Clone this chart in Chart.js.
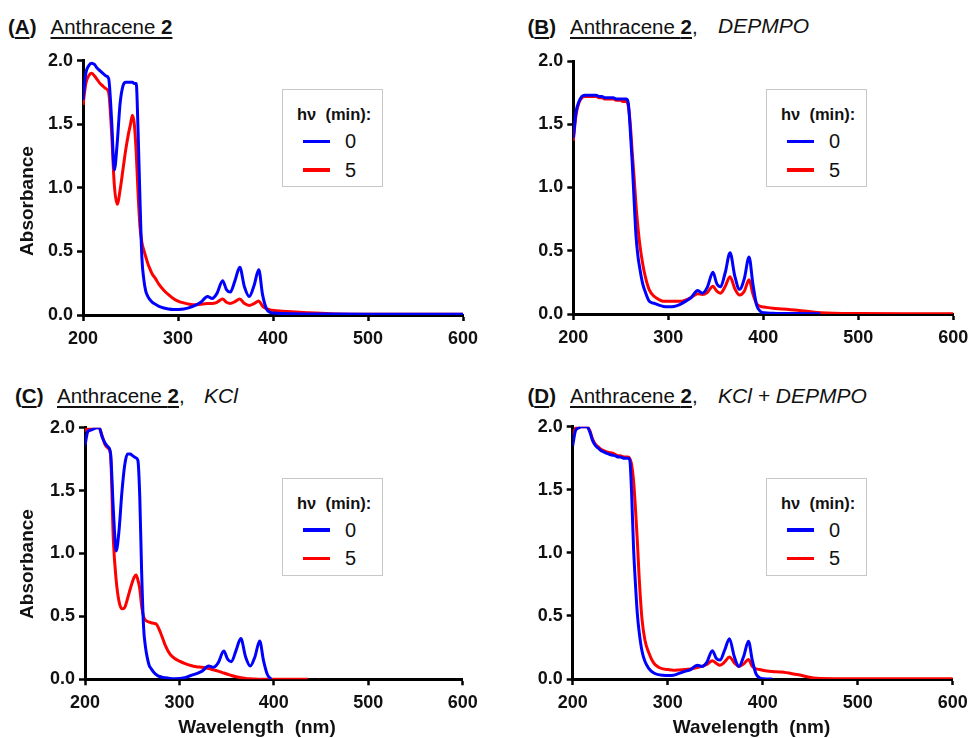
<!DOCTYPE html>
<html lang="en">
<head>
<meta charset="UTF-8">
<title>Anthracene 2 absorption spectra</title>
<script src="https://cdn.jsdelivr.net/npm/chart.js"></script>
<style>
  body { margin: 0; background: #fff; font-family: 'Liberation Sans', Arial, sans-serif; color: #111; }
  #page { position: relative; width: 969px; height: 738px; overflow: hidden; }
  canvas { position: absolute; }
  .ttl { position: absolute; font-size: 20.5px; line-height: 23px; white-space: pre; }
  .ttl u { text-decoration-thickness: 1.5px; text-underline-offset: 3px; }
  .ttl i { font-size: 21px; }
  .axis-title { position: absolute; font-weight: bold; font-size: 19px; line-height: 22px; white-space: pre; }
  .ytitle { transform: translate(-50%, -50%) rotate(-90deg); }
  .xtitle { transform: translateX(-50%); }
  .legend { position: absolute; width: 101px; height: 98px; box-sizing: border-box; border: 1px solid #c8c8c8; background: #fff; }
  .legend .head { position: absolute; left: 14px; top: 15px; font-weight: bold; font-size: 16.5px; line-height: 18px; white-space: pre; }
  .legend .swatch { position: absolute; left: 20px; width: 27px; height: 3.5px; }
  .legend .lab { position: absolute; left: 62px; font-size: 20px; line-height: 22px; }
</style>
</head>
<body>
<div id="page">
  <canvas id="panelA" width="490" height="320" style="left:0;top:45px"></canvas>
  <canvas id="panelB" width="490" height="320" style="left:490px;top:45px"></canvas>
  <canvas id="panelC" width="490" height="326" style="left:0;top:412px"></canvas>
  <canvas id="panelD" width="490" height="326" style="left:490px;top:412px"></canvas>

  <div class="ttl" style="left:8px;top:14.5px"><b>(<u>A</u>)</b></div>
  <div class="ttl" style="left:50.5px;top:14.5px"><u>Anthracene <b>2</b></u></div>

  <div class="ttl" style="left:527.5px;top:14.5px"><b>(<u>B</u>)</b></div>
  <div class="ttl" style="left:570px;top:14.5px"><u>Anthracene <b>2</b></u>,</div>
  <div class="ttl" style="left:718px;top:14px"><i>DEPMPO</i></div>

  <div class="ttl" style="left:15px;top:384px"><b>(<u>C</u>)</b></div>
  <div class="ttl" style="left:57px;top:384px"><u>Anthracene <b>2</b></u>,</div>
  <div class="ttl" style="left:204px;top:383.5px"><i>KCl</i></div>

  <div class="ttl" style="left:527.5px;top:384px"><b>(<u>D</u>)</b></div>
  <div class="ttl" style="left:570px;top:384px"><u>Anthracene <b>2</b></u>,</div>
  <div class="ttl" style="left:718px;top:383.5px"><i>KCl + DEPMPO</i></div>

  <div class="axis-title ytitle" style="left:26.5px;top:201px">Absorbance</div>
  <div class="axis-title ytitle" style="left:26.5px;top:564px">Absorbance</div>
  <div class="axis-title xtitle" style="left:257px;top:715.5px">Wavelength  (nm)</div>
  <div class="axis-title xtitle" style="left:751.5px;top:715.5px">Wavelength  (nm)</div>
</div>

<script>
// wavelength grid (nm), shared by all four spectra
const wavelength = [200, 203, 206, 209, 212, 215, 218, 221, 224, 227, 230, 233, 236, 239, 242, 245,
  248, 250, 252, 254, 256, 258, 260, 262, 264, 266, 268, 270, 273, 276, 280, 285, 290, 295, 300,
  306, 312, 318, 324, 331, 336, 341, 347, 351, 355, 360, 365, 370, 375, 380, 385, 389, 393, 397, 401,
  410, 420, 436, 460, 500, 550, 600];

// (A) anthracene 2
const absA0 = [1.69, 1.90, 1.96, 1.98, 1.97, 1.94, 1.92, 1.90, 1.88, 1.86, 1.55, 1.14, 1.35, 1.66, 1.80, 1.83,
  1.83, 1.83, 1.83, 1.82, 1.82, 1.44, 0.90, 0.45, 0.28, 0.19, 0.15, 0.125, 0.10, 0.085, 0.068, 0.055, 0.047, 0.043, 0.044,
  0.048, 0.058, 0.075, 0.10, 0.145, 0.13, 0.17, 0.27, 0.20, 0.18, 0.27, 0.375, 0.22, 0.145, 0.23, 0.355, 0.16, 0.05, 0.02, 0.015,
  0.012, 0.01, 0.008, 0.007, 0.006, 0.005, 0.005];
const absA5 = [1.65, 1.82, 1.88, 1.90, 1.88, 1.85, 1.82, 1.80, 1.78, 1.75, 1.45, 1.02, 0.87, 0.98, 1.14, 1.30,
  1.43, 1.50, 1.57, 1.50, 1.28, 0.95, 0.69, 0.57, 0.51, 0.46, 0.41, 0.37, 0.32, 0.29, 0.24, 0.195, 0.16, 0.13, 0.11,
  0.095, 0.085, 0.08, 0.085, 0.09, 0.09, 0.10, 0.125, 0.10, 0.09, 0.105, 0.125, 0.09, 0.075, 0.09, 0.11, 0.07, 0.05, 0.04, 0.035,
  0.03, 0.025, 0.018, 0.01, 0.006, 0.005, 0.005];

// (B) anthracene 2 + DEPMPO
const absB0 = [1.39, 1.60, 1.68, 1.72, 1.73, 1.73, 1.73, 1.73, 1.73, 1.72, 1.72, 1.71, 1.71, 1.71, 1.71, 1.70,
  1.70, 1.70, 1.70, 1.70, 1.70, 1.66, 1.45, 1.20, 0.90, 0.62, 0.46, 0.36, 0.24, 0.17, 0.10, 0.085, 0.07, 0.06, 0.058,
  0.06, 0.075, 0.10, 0.13, 0.185, 0.165, 0.21, 0.33, 0.24, 0.215, 0.33, 0.485, 0.30, 0.195, 0.28, 0.45, 0.24, 0.07, 0.02, 0.01,
  0.006, 0.004, 0.003, 0.002, null, null, null];
const absB5 = [1.37, 1.58, 1.67, 1.71, 1.72, 1.72, 1.72, 1.72, 1.72, 1.71, 1.71, 1.70, 1.70, 1.70, 1.70, 1.69,
  1.69, 1.69, 1.68, 1.68, 1.68, 1.64, 1.50, 1.28, 1.08, 0.86, 0.69, 0.55, 0.40, 0.29, 0.19, 0.14, 0.115, 0.10, 0.10,
  0.10, 0.10, 0.11, 0.13, 0.16, 0.155, 0.17, 0.22, 0.18, 0.165, 0.22, 0.295, 0.20, 0.15, 0.18, 0.27, 0.16, 0.08, 0.06, 0.055,
  0.045, 0.04, 0.03, 0.01, 0.003, 0.002, 0.002];

// (C) anthracene 2 + KCl
const absC0 = [1.86, 1.97, 1.98, 1.99, 2.0, 2.0, 1.93, 1.88, 1.85, 1.80, 1.35, 1.02, 1.18, 1.48, 1.70, 1.79,
  1.79, 1.78, 1.77, 1.76, 1.74, 1.45, 0.85, 0.42, 0.26, 0.17, 0.11, 0.085, 0.055, 0.035, 0.02, 0.012, 0.007, 0.005, 0.006,
  0.012, 0.03, 0.045, 0.065, 0.105, 0.095, 0.13, 0.225, 0.16, 0.14, 0.23, 0.325, 0.18, 0.105, 0.18, 0.305, 0.15, 0.04, 0.0, null,
  null, null, null, null, null, null, null];
const absC5 = [1.97, 2.0, 2.0, 2.0, 2.0, 2.0, 1.94, 1.87, 1.84, 1.79, 1.11, 0.79, 0.62, 0.56, 0.57, 0.64,
  0.72, 0.77, 0.81, 0.83, 0.79, 0.72, 0.58, 0.50, 0.47, 0.46, 0.455, 0.45, 0.445, 0.435, 0.37, 0.27, 0.20, 0.165, 0.145,
  0.125, 0.11, 0.10, 0.095, 0.085, 0.075, 0.065, 0.05, 0.04, 0.03, 0.02, 0.012, 0.007, 0.004, 0.002, 0.001, 0, 0, 0, 0,
  0, 0, 0, null, null, null, null];

// (D) anthracene 2 + KCl + DEPMPO
const absD0 = [1.85, 1.97, 1.99, 2.0, 2.0, 2.0, 1.96, 1.89, 1.85, 1.83, 1.81, 1.80, 1.79, 1.78, 1.775, 1.77,
  1.76, 1.76, 1.755, 1.75, 1.75, 1.75, 1.74, 1.48, 1.05, 0.76, 0.52, 0.37, 0.22, 0.14, 0.085, 0.05, 0.035, 0.03, 0.028,
  0.03, 0.045, 0.06, 0.075, 0.11, 0.10, 0.13, 0.225, 0.165, 0.15, 0.23, 0.32, 0.18, 0.10, 0.18, 0.30, 0.15, 0.04, 0.008, 0.002,
  0.0, null, null, null, null, null, null];
const absD5 = [1.93, 1.99, 2.0, 2.0, 2.0, 2.0, 1.97, 1.90, 1.86, 1.84, 1.82, 1.81, 1.80, 1.795, 1.79, 1.78,
  1.77, 1.77, 1.765, 1.76, 1.76, 1.76, 1.75, 1.70, 1.58, 1.36, 1.10, 0.80, 0.47, 0.31, 0.21, 0.13, 0.095, 0.08, 0.075,
  0.07, 0.072, 0.075, 0.08, 0.09, 0.10, 0.115, 0.145, 0.125, 0.11, 0.135, 0.175, 0.13, 0.10, 0.12, 0.155, 0.10, 0.08, 0.075, 0.068,
  0.06, 0.055, 0.035, 0.004, 0.002, 0.001, 0.001];

const irradiation = ['0', '5'];          // hν (min)
const lineColors = ['#0000ff', '#ff0000'];

// canvas layout of each panel: y-axis box width, x-axis box height, top/right padding
// (right padding is kept wider than half the "600" label plus its tick padding)
const panels = [
  { id: 'panelA', series: [absA0, absA5], yw: 83, xh: 50, top: 15.6, right: 27, legend: [282, 89] },
  { id: 'panelB', series: [absB0, absB5], yw: 83.3, xh: 51, top: 16, right: 26.7, legend: [766, 89] },
  { id: 'panelC', series: [absC0, absC5], yw: 85, xh: 58.7, top: 15.7, right: 27.3, legend: [282, 477.5] },
  { id: 'panelD', series: [absD0, absD5], yw: 82.7, xh: 59, top: 14.7, right: 27.3, legend: [766, 477.5] }
];

const tickFont = { family: "'Liberation Sans', Arial, sans-serif", size: 18, weight: 'bold' };
const axisGrid = { drawOnChartArea: false, drawTicks: true, tickLength: 6, tickWidth: 2.5, tickColor: '#000' };
const axisBorder = { color: '#000', width: 3 };

function drawPanel(p) {
  const datasets = p.series.map((vals, i) => ({
    label: irradiation[i],
    data: wavelength.map((x, k) => ({ x: x, y: vals[k] })),
    borderColor: lineColors[i],
    borderWidth: 3,
    pointRadius: 0,
    fill: false,
    spanGaps: false,
    cubicInterpolationMode: 'monotone'
  }));

  new Chart(document.getElementById(p.id), {
    type: 'line',
    data: { datasets: datasets },
    options: {
      responsive: false,
      animation: false,
      events: [],
      layout: { padding: { top: p.top, right: p.right, left: 0, bottom: 0 } },
      plugins: { legend: { display: false }, tooltip: { enabled: false } },
      scales: {
        x: {
          type: 'linear', min: 200, max: 600,
          ticks: { stepSize: 100, autoSkip: false, maxRotation: 0, padding: 7, color: '#111', font: tickFont },
          grid: axisGrid,
          border: axisBorder,
          afterFit: s => { s.height = p.xh; }
        },
        y: {
          min: 0, max: 2,
          ticks: { stepSize: 0.5, autoSkip: false, padding: 4, color: '#111', font: tickFont,
                   callback: v => v.toFixed(1) },
          grid: axisGrid,
          border: axisBorder,
          afterFit: s => { s.width = p.yw; }
        }
      }
    }
  });

  // boxed legend: hν (min) with the two irradiation times
  const box = document.createElement('div');
  box.className = 'legend';
  box.style.left = p.legend[0] + 'px';
  box.style.top = p.legend[1] + 'px';
  box.innerHTML = '<div class="head">hν  (min):</div>';
  irradiation.forEach((t, i) => {
    const sw = document.createElement('div');
    sw.className = 'swatch';
    sw.style.top = (49.5 + i * 28.5) + 'px';
    sw.style.background = lineColors[i];
    const lab = document.createElement('div');
    lab.className = 'lab';
    lab.style.top = (40 + i * 28.5) + 'px';
    lab.textContent = t;
    box.appendChild(sw);
    box.appendChild(lab);
  });
  document.getElementById('page').appendChild(box);
}

panels.forEach(drawPanel);
</script>
</body>
</html>
